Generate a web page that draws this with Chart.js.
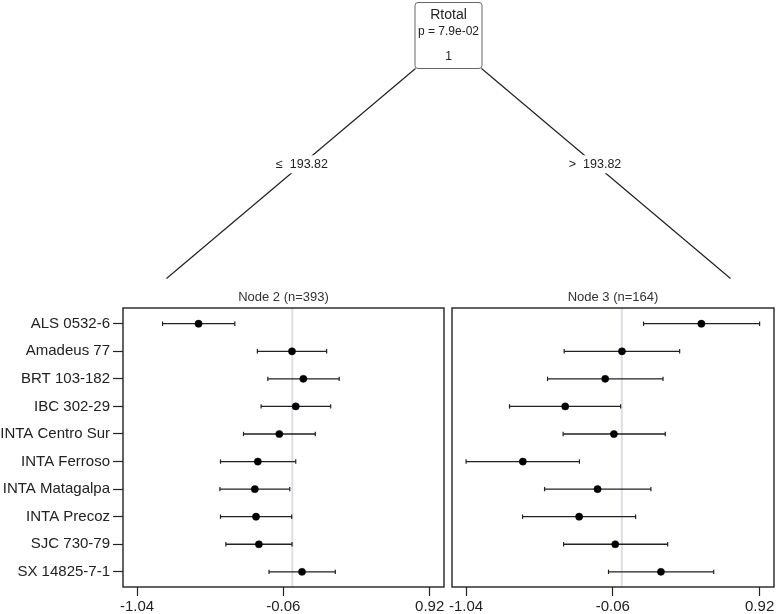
<!DOCTYPE html>
<html>
<head>
<meta charset="utf-8">
<script src="https://cdn.jsdelivr.net/npm/chart.js@4/dist/chart.umd.min.js"></script>
<style>
  html, body { margin: 0; padding: 0; background: #ffffff; overflow: hidden; }
  #wrap { position: relative; width: 777px; height: 614px; background: #fff; overflow: hidden; }
  canvas { position: absolute; left: 0; top: 0; }
</style>
</head>
<body>
<div id="wrap">
  <canvas id="left" width="777" height="614"></canvas>
  <canvas id="right" width="810" height="614"></canvas>
</div>
<script>
// ---------- data ----------
const categories = ['ALS 0532-6','Amadeus 77','BRT 103-182','IBC 302-29','INTA Centro Sur',
  'INTA Ferroso','INTA Matagalpa','INTA Precoz','SJC 730-79','SX 14825-7-1'];

const node2Est = [-0.628, -0.002, 0.074, 0.023, -0.087, -0.231, -0.251, -0.243, -0.224, 0.065];
const node2Lo  = [-0.869, -0.234, -0.164, -0.209, -0.327, -0.481, -0.485, -0.481, -0.445, -0.156];
const node2Hi  = [-0.385, 0.230, 0.314, 0.257, 0.154, 0.023, -0.017, -0.004, -0.002, 0.288];

const node3Est = [0.531, 0.001, -0.111, -0.378, -0.053, -0.661, -0.162, -0.285, -0.044, 0.261];
const node3Lo  = [0.145, -0.385, -0.496, -0.750, -0.392, -1.040, -0.516, -0.663, -0.389, -0.089];
const node3Hi  = [0.920, 0.386, 0.275, -0.008, 0.290, -0.283, 0.194, 0.092, 0.306, 0.613];

const xTicks = [-1.04, -0.06, 0.92];
const xTickLabels = ['-1.04', '-0.06', '0.92'];
const refValue = 0;

const splitVar = 'Rtotal';
const splitP = 'p = 7.9e-02';
const splitId = '1';
const splitValue = '193.82';
const node2Title = 'Node 2 (n=393)';
const node3Title = 'Node 3 (n=164)';

// ---------- helpers ----------
const FONT = "'Liberation Sans', Arial, Helvetica, sans-serif";
const INK = '#222222';

function makeDatasets(est, lo, hi) {
  const rows = categories.map((c, i) => i + 1);
  const whisk = [];
  rows.forEach((r, i) => { whisk.push({x: lo[i], y: r}, {x: hi[i], y: r}, {x: null, y: null}); });
  const caps = [];
  rows.forEach((r, i) => { caps.push({x: lo[i], y: r}, {x: hi[i], y: r}); });
  return [
    { data: [{x: refValue, y: 0}, {x: refValue, y: 11}], showLine: true, pointRadius: 0,
      borderColor: '#dedee6', borderWidth: 2, order: 4, clip: true },
    { data: whisk, showLine: true, spanGaps: false, pointRadius: 0, borderColor: INK,
      borderWidth: 1.3, order: 3 },
    { data: caps, pointStyle: 'line', rotation: 90, pointRadius: 2.2, borderColor: INK,
      pointBorderWidth: 1.2, order: 2 },
    { data: rows.map((r, i) => ({x: est[i], y: r})), pointRadius: 3.6, pointBackgroundColor: '#000',
      pointBorderColor: '#000', pointBorderWidth: 0.5, order: 1 }
  ];
}

function boxPlugin(title) {
  return {
    id: 'box',
    afterDraw(chart) {
      const {ctx, chartArea: a} = chart;
      ctx.save();
      ctx.strokeStyle = INK;
      ctx.lineWidth = 1.4;
      ctx.strokeRect(a.left, a.top, a.right - a.left, a.bottom - a.top);
      ctx.fillStyle = '#333';
      ctx.font = '13px ' + FONT;
      ctx.textAlign = 'center';
      ctx.textBaseline = 'middle';
      ctx.fillText(title, (a.left + a.right) / 2, a.top - 11);
      ctx.restore();
    }
  };
}

const treePlugin = {
  id: 'tree',
  beforeDraw(chart) {
    const ctx = chart.ctx;
    ctx.save();
    const edges = [
      {x0: 415.5, y0: 68.5, x1: 166.5, y1: 278.5, label: '\u2264  ' + splitValue},
      {x0: 481.5, y0: 68.5, x1: 730.5, y1: 278.5, label: '>  ' + splitValue}
    ];
    ctx.strokeStyle = INK;
    ctx.lineWidth = 1.2;
    edges.forEach(e => {
      ctx.beginPath(); ctx.moveTo(e.x0, e.y0); ctx.lineTo(e.x1, e.y1); ctx.stroke();
    });
    ctx.font = '12.5px ' + FONT;
    ctx.textAlign = 'center';
    ctx.textBaseline = 'middle';
    edges.forEach(e => {
      const t = 0.456;
      const cx = e.x0 + (e.x1 - e.x0) * t, cy = e.y0 + (e.y1 - e.y0) * t;
      const w = ctx.measureText(e.label).width;
      ctx.fillStyle = '#fff';
      ctx.fillRect(cx - w / 2 - 3, cy - 9, w + 6, 18);
      ctx.fillStyle = INK;
      ctx.fillText(e.label, cx, cy);
    });
    const bx = 415, by = 2.5, bw = 67, bh = 66, r = 3;
    ctx.beginPath();
    ctx.moveTo(bx + r, by);
    ctx.arcTo(bx + bw, by, bx + bw, by + bh, r);
    ctx.arcTo(bx + bw, by + bh, bx, by + bh, r);
    ctx.arcTo(bx, by + bh, bx, by, r);
    ctx.arcTo(bx, by, bx + bw, by, r);
    ctx.closePath();
    ctx.fillStyle = '#fff';
    ctx.fill();
    ctx.strokeStyle = '#666';
    ctx.lineWidth = 1;
    ctx.stroke();
    ctx.fillStyle = INK;
    ctx.font = '14px ' + FONT;
    ctx.fillText(splitVar, bx + bw / 2, 15.5);
    ctx.font = '12px ' + FONT;
    ctx.fillText(splitP, bx + bw / 2, 32);
    ctx.fillText(splitId, bx + bw / 2, 57);
    ctx.restore();
  }
};

function xScale() {
  return {
    type: 'linear', min: -1.134, max: 1.016,
    afterBuildTicks(s) { s.ticks = xTicks.map(v => ({value: v})); },
    afterFit(s) { s.height = 27; },
    border: {display: false},
    grid: {drawOnChartArea: false, drawTicks: true, tickLength: 9, tickColor: INK, tickWidth: 1.2},
    ticks: {
      autoSkip: false, maxRotation: 0, padding: 2, color: INK,
      font: {family: FONT, size: 15},
      callback: (v) => { const k = xTicks.indexOf(v); return k >= 0 ? xTickLabels[k] : ''; }
    }
  };
}

function yScale(showLabels) {
  return {
    type: 'linear', min: 0.43, max: 10.55, reverse: true,
    display: showLabels,
    afterBuildTicks(s) { s.ticks = categories.map((c, i) => ({value: i + 1})); },
    afterFit(s) { s.width = showLabels ? 123 : 0; },
    border: {display: false},
    grid: {drawOnChartArea: false, drawTicks: true, tickLength: 10, tickColor: INK, tickWidth: 1.2},
    ticks: {
      autoSkip: false, padding: 3, color: INK,
      font: {family: FONT, size: 15},
      callback: (v) => categories[v - 1] || ''
    }
  };
}

function makeChart(id, est, lo, hi, showY, padLeft, padRight, title, extraPlugins) {
  return new Chart(document.getElementById(id), {
    type: 'scatter',
    data: {datasets: makeDatasets(est, lo, hi)},
    options: {
      responsive: false, animation: false, devicePixelRatio: 1,
      layout: {padding: {left: padLeft, right: padRight, top: 308, bottom: 0}},
      plugins: {legend: {display: false}, tooltip: {enabled: false}, title: {display: false}},
      scales: {x: xScale(), y: yScale(showY)}
    },
    plugins: [boxPlugin(title)].concat(extraPlugins)
  });
}

makeChart('left', node2Est, node2Lo, node2Hi, true, 0, 333, node2Title, [treePlugin]);
makeChart('right', node3Est, node3Lo, node3Hi, false, 452, 36, node3Title, []);
</script>
</body>
</html>
